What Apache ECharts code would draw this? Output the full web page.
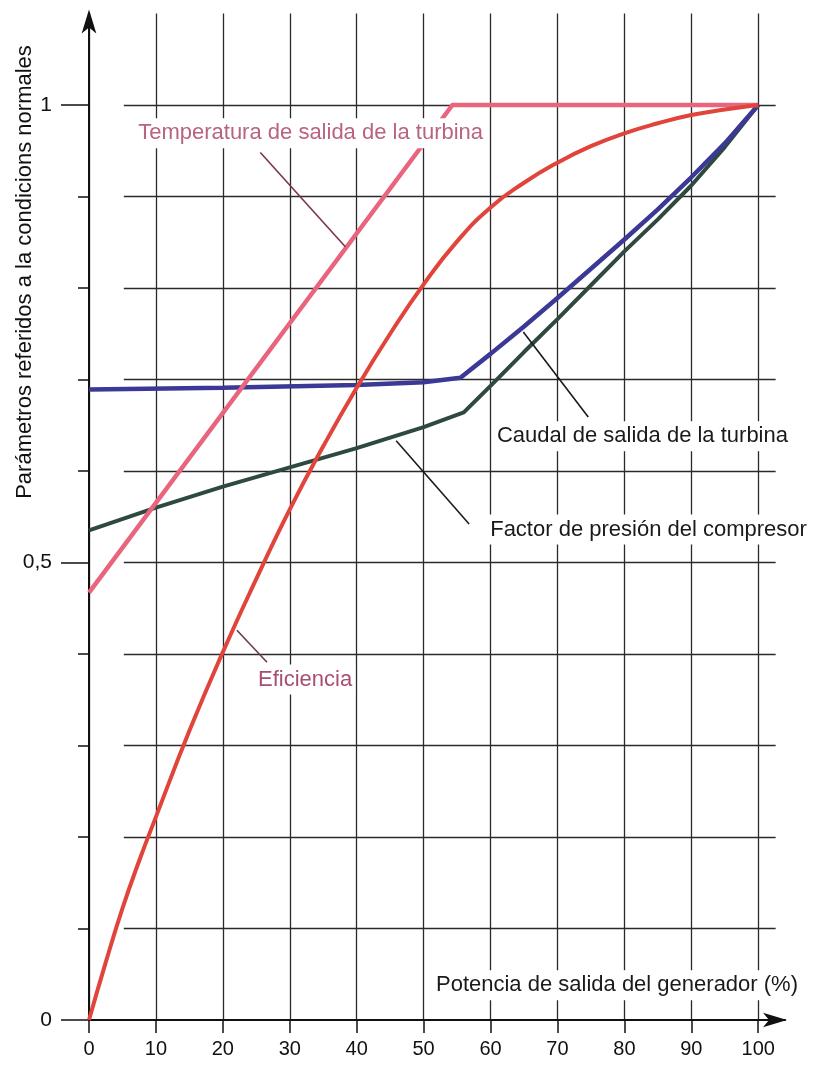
<!DOCTYPE html>
<html>
<head>
<meta charset="utf-8">
<script src="https://cdn.jsdelivr.net/npm/echarts@6/dist/echarts.min.js"></script>
<style>
  html, body { margin: 0; padding: 0; background: #fff; }
  #chart { width: 816px; height: 1073px; }
</style>
</head>
<body>
<div id="chart"></div>
<script>
// ejes
const xTicks = [0, 10, 20, 30, 40, 50, 60, 70, 80, 90, 100];
const yTicks = [0, 0.1, 0.2, 0.3, 0.4, 0.5, 0.6, 0.7, 0.8, 0.9, 1];
const yLabelTicks = [0, 0.5, 1];
const gridRows = [0.1, 0.2, 0.3, 0.4, 0.5, 0.6, 0.7, 0.8, 0.9, 1];

// curvas [potencia %, valor referido]
const temperatura = [[0, 0.467], [54.3, 1.0], [100, 1.0]];
const eficiencia = [
  [0, 0], [2.5, 0.063], [5, 0.122], [7.5, 0.174], [10, 0.222], [15, 0.316], [20, 0.402],
  [25, 0.482], [30, 0.558], [35, 0.627], [40, 0.691], [45, 0.75], [50, 0.804],
  [55, 0.851], [60, 0.888], [65, 0.915], [70, 0.937], [75, 0.955], [80, 0.969],
  [85, 0.98], [90, 0.989], [95, 0.995], [100, 1.0]
];
const caudal = [
  [0, 0.689], [20, 0.691], [40, 0.694], [50, 0.697], [55.5, 0.702], [60, 0.728],
  [65, 0.758], [70, 0.789], [75, 0.821], [80, 0.853], [85, 0.886], [90, 0.921],
  [95, 0.958], [100, 1.0]
];
const factor = [
  [0, 0.535], [10, 0.56], [20, 0.583], [30, 0.604], [40, 0.625], [50, 0.648],
  [56, 0.664], [60, 0.693], [65, 0.73], [70, 0.766], [75, 0.803], [80, 0.84],
  [85, 0.875], [90, 0.912], [95, 0.954], [100, 1.0]
];

// rotulos y lineas de referencia (en coordenadas del grafico)
const rotulos = [
  { text: 'Temperatura de salida de la turbina', at: [6.9, 0.969], color: '#b8637f' },
  { text: 'Eficiencia', at: [24.8, 0.372], color: '#a84d76' },
  { text: 'Caudal de salida de la turbina', at: [60.5, 0.638], color: '#1a1a1a' },
  { text: 'Factor de presión del compresor', at: [59.5, 0.536], color: '#1a1a1a' },
  { text: 'Potencia de salida del generador (%)', at: [51.4, 0.038], color: '#1a1a1a' }
];
const leaderTemp = [[25.6, 0.948], [38.3, 0.845]];
const leaderEfic = [[22.1, 0.426], [26.6, 0.391]];
const leaderCaudal = [[64.9, 0.752], [74.6, 0.659]];
const leaderFactor = [[45.9, 0.633], [56.8, 0.542]];

const FONT = "'Liberation Sans', Arial, Helvetica, sans-serif";

const chart = echarts.init(document.getElementById('chart'));

function leader(pts, color) {
  return {
    silent: true,
    symbol: ['none', 'none'],
    z: 6,
    label: { show: false },
    lineStyle: { color: color, width: 1.6, type: 'solid' },
    data: [[{ coord: pts[0] }, { coord: pts[1] }]]
  };
}

const option = {
  animation: false,
  backgroundColor: '#fff',
  grid: { left: 89, right: 31, top: 13.5, bottom: 53, containLabel: false },
  xAxis: {
    type: 'value',
    min: 0,
    max: 104,
    axisLine: {
      show: true,
      symbol: ['none', 'arrow'],
      symbolSize: [11, 24],
      symbolOffset: [0, 2],
      lineStyle: { color: '#111', width: 2 }
    },
    axisTick: {
      show: true,
      customValues: xTicks,
      length: 13,
      lineStyle: { color: '#111', width: 1.5 }
    },
    axisLabel: {
      customValues: xTicks,
      margin: 19,
      color: '#111',
      fontSize: 20,
      fontFamily: FONT
    },
    splitLine: {
      show: true,
      lineStyle: { color: '#2a2a2a', width: 1.3 }
    }
  },
  yAxis: [
    {
      type: 'value',
      min: 0,
      max: 1.1,
      position: 'left',
      axisLine: {
        show: true,
        symbol: ['none', 'arrow'],
        symbolSize: [11, 24],
        symbolOffset: [0, 4],
        lineStyle: { color: '#111', width: 2 }
      },
      axisTick: {
        show: true,
        customValues: yTicks,
        length: 11,
        lineStyle: { color: '#111', width: 1.5 }
      },
      axisLabel: { show: false },
      splitLine: { show: false }
    },
    {
      type: 'value',
      min: 0,
      max: 1.1,
      position: 'left',
      axisLine: { show: false },
      axisTick: {
        show: true,
        customValues: yLabelTicks,
        length: 28,
        lineStyle: { color: '#111', width: 1.5 }
      },
      axisLabel: {
        customValues: yLabelTicks,
        margin: 37,
        color: '#111',
        fontSize: 21,
        fontFamily: FONT,
        formatter: (v) => (v === 0.5 ? '0,5' : String(v))
      },
      splitLine: { show: false }
    }
  ],
  series: [
    {
      // lineas horizontales de la cuadricula
      name: 'cuadricula',
      type: 'line',
      data: [],
      silent: true,
      z: 1,
      markLine: {
        silent: true,
        symbol: ['none', 'none'],
        z: 1,
        label: { show: false },
        lineStyle: { color: '#2a2a2a', width: 1.3, type: 'solid' },
        data: gridRows.map((v) => [{ coord: [5.2, v] }, { coord: [102.6, v] }])
      }
    },
    {
      name: 'Factor de presión del compresor',
      type: 'line',
      data: factor,
      showSymbol: false,
      z: 3,
      lineStyle: { color: '#2e4a40', width: 4 },
      markLine: leader(leaderFactor, '#1a1a1a')
    },
    {
      name: 'Caudal de salida de la turbina',
      type: 'line',
      data: caudal,
      showSymbol: false,
      z: 4,
      lineStyle: { color: '#3b3896', width: 4.5 },
      markLine: leader(leaderCaudal, '#1a1a1a')
    },
    {
      name: 'Temperatura de salida de la turbina',
      type: 'line',
      data: temperatura,
      showSymbol: false,
      z: 4,
      lineStyle: { color: '#e9657d', width: 4.5, join: 'round' },
      markLine: leader(leaderTemp, '#7a3450')
    },
    {
      name: 'Eficiencia',
      type: 'line',
      data: eficiencia,
      showSymbol: false,
      smooth: 0.5,
      z: 5,
      lineStyle: { color: '#e0443a', width: 4 },
      markLine: leader(leaderEfic, '#6e3a4a')
    }
  ]
};

chart.setOption(option);

// rotulos con fondo blanco, situados desde las coordenadas del grafico
const graphics = rotulos.map((r) => {
  const p = chart.convertToPixel({ xAxisIndex: 0, yAxisIndex: 0 }, r.at);
  return {
    type: 'text',
    x: p[0],
    y: p[1],
    z: 100,
    style: {
      text: r.text,
      fill: r.color,
      font: '22px ' + FONT,
      align: 'left',
      verticalAlign: 'middle',
      backgroundColor: '#fff',
      padding: [4, 3]
    }
  };
});
graphics.push({
  type: 'text',
  x: 25,
  y: 272,
  rotation: Math.PI / 2,
  z: 100,
  style: {
    text: 'Parámetros referidos a la condicions normales',
    fill: '#111',
    font: '22px ' + FONT,
    align: 'center',
    verticalAlign: 'middle'
  }
});
chart.setOption({ graphic: graphics });
</script>
</body>
</html>
